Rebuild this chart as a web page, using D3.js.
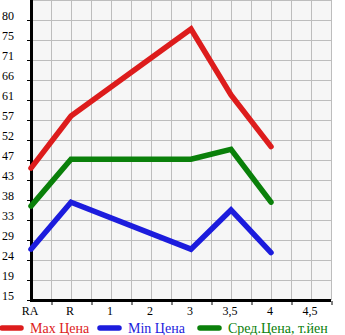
<!DOCTYPE html>
<html>
<head>
<meta charset="utf-8">
<script src="https://cdn.jsdelivr.net/npm/d3@7"></script>
<style>
  body { margin: 0; background: #fff; }
  text { font-family: "Liberation Serif", "DejaVu Serif", serif; }
</style>
</head>
<body>
<svg class="chart"></svg>
<script>
// data
var categories = ['RA', 'R', '1', '2', '3', '3,5', '4', '4,5'];
var maxPrice = [45.6, 57.7, null, null, 77.9, 62.6, 50.6, null];
var minPrice = [26.8, 37.7, null, null, 26.8, 35.9, 26.0, null];
var avgPrice = [36.8, 47.7, null, null, 47.7, 50.0, 37.7, null];
var yTickLabels = ['15', '19', '24', '29', '33', '38', '43', '47', '52', '57', '61', '66', '71', '75', '80'];
var legendNames = ['Max Цена', 'Min Цена', 'Сред.Цена, т.йен'];

function show() {
    'use strict';

    var margin = { top: 0, left: 31 },
        width = 300,
        height = 300;

    var svg = d3.select('.chart')
        .attr('width', 345)
        .attr('height', 335);

    var chart = svg.append('g')
        .attr('transform', 'translate(' + margin.left + ',' + margin.top + ')');

    var step = 65 / 14;
    var x = d3.scaleLinear().domain([0, 7.5]).range([0, width]);
    var y = d3.scaleLinear().domain([15, 15 + step * 15]).range([height, 0]);

    var yVals = yTickLabels.map(function (d, i) { return 15 + step * i; });

    chart.append('rect')
        .attr('width', width).attr('height', height)
        .attr('fill', '#f6f6f6');

    // grid, every half step
    var gx = d3.range(0, 7.51, 0.5);
    var gy = d3.range(0, 16).map(function (i) { return 15 + step * i; });

    chart.selectAll('.gx').data(gx).enter().append('line')
        .attr('x1', function (d) { return Math.round(x(d)) + 0.5; })
        .attr('x2', function (d) { return Math.round(x(d)) + 0.5; })
        .attr('y1', 0).attr('y2', height)
        .attr('stroke', '#bdbdbd');

    chart.selectAll('.gy').data(gy).enter().append('line')
        .attr('y1', function (d) { return Math.round(y(d)) + 0.5; })
        .attr('y2', function (d) { return Math.round(y(d)) + 0.5; })
        .attr('x1', 0).attr('x2', width)
        .attr('stroke', '#bdbdbd');

    // y axis
    var yAxis = d3.axisLeft(y)
        .tickValues(yVals)
        .tickSize(4)
        .tickPadding(13)
        .tickFormat(function (d, i) { return yTickLabels[i]; });

    var ya = chart.append('g').call(yAxis);
    ya.select('.domain').remove();
    ya.selectAll('line').attr('stroke', '#000');
    ya.selectAll('text')
        .attr('font-family', '"Liberation Serif", serif')
        .attr('font-size', 12)
        .attr('fill', '#000')
        .attr('dy', '-1px');

    // x axis: ticks between categories, labels on categories
    var xAxis = d3.axisBottom(x)
        .tickValues(d3.range(0, 8).map(function (i) { return i + 0.5; }))
        .tickSize(4)
        .tickFormat('');

    var xa = chart.append('g')
        .attr('transform', 'translate(0,' + height + ')')
        .call(xAxis);
    xa.select('.domain').remove();
    xa.selectAll('line').attr('stroke', '#000').attr('transform', 'translate(0.5,1)');

    chart.selectAll('.xl').data(categories).enter().append('text')
        .attr('x', function (d, i) { return x(i) - 1; })
        .attr('y', height + 15)
        .attr('text-anchor', 'middle')
        .attr('font-size', 12)
        .text(function (d) { return d; });

    chart.append('line')
        .attr('x1', 0.5).attr('x2', 0.5)
        .attr('y1', 0).attr('y2', height + 1.5)
        .attr('stroke', '#000').attr('stroke-width', 3);
    chart.append('line')
        .attr('x1', -1).attr('x2', width)
        .attr('y1', height + 0.5).attr('y2', height + 0.5)
        .attr('stroke', '#000').attr('stroke-width', 3);

    // series
    var series = [
        { values: maxPrice, color: '#dd1c1c' },
        { values: minPrice, color: '#1c1cdd' },
        { values: avgPrice, color: '#0a800a' }
    ];

    var line = d3.line()
        .x(function (d) { return x(d.i); })
        .y(function (d) { return y(d.v); });

    series.forEach(function (s) {
        var pts = s.values
            .map(function (v, i) { return { i: i, v: v }; })
            .filter(function (d) { return d.v !== null; });
        chart.append('path')
            .datum(pts)
            .attr('d', line)
            .attr('fill', 'none')
            .attr('stroke', s.color)
            .attr('stroke-width', 5.5)
            .attr('stroke-linecap', 'round')
            .attr('stroke-linejoin', 'miter');
    });

    // legend
    var legendX = [0, 98, 198];
    var legend = svg.selectAll('.lg').data(legendNames).enter().append('g')
        .attr('transform', function (d, i) { return 'translate(' + legendX[i] + ',328)'; });

    legend.append('line')
        .attr('x1', 2).attr('x2', 21)
        .attr('stroke', function (d, i) { return series[i].color; })
        .attr('stroke-width', 5.5)
        .attr('stroke-linecap', 'round');

    legend.append('text')
        .attr('x', 30)
        .attr('y', 5)
        .attr('font-size', 14)
        .attr('fill', function (d, i) { return series[i].color; })
        .text(function (d) { return d; });
}

show();
</script>
</body>
</html>
